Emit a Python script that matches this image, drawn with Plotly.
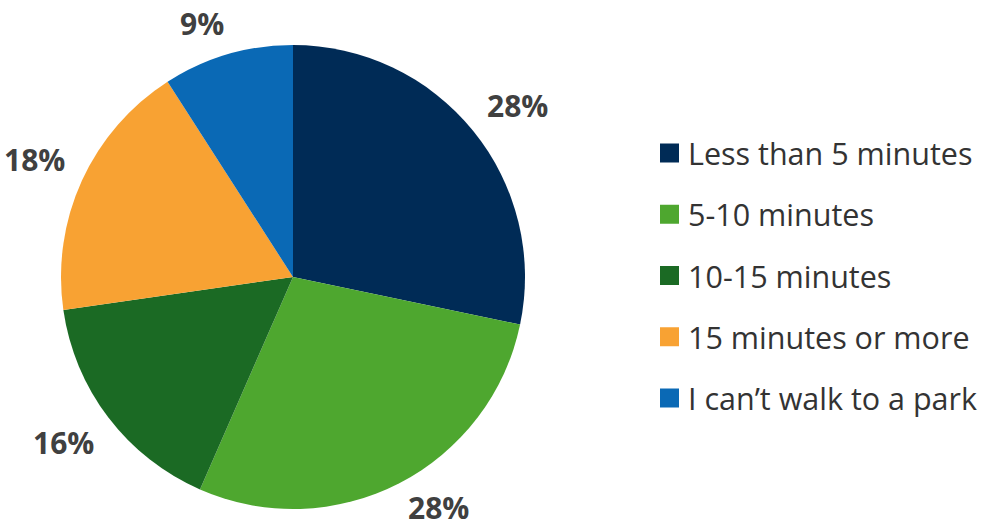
import math
import plotly.graph_objects as go

categories = ["Less than 5 minutes", "5-10 minutes", "10-15 minutes", "15 minutes or more", "I can\u2019t walk to a park"]
values = [28, 28, 16, 18, 9]
colors = ["#002B56", "#4EA72F", "#1B6A24", "#F8A233", "#0A69B5"]

W, H = 986, 527
cx, cy, r = 293, 277, 232

fig = go.Figure()
fig.add_trace(go.Pie(
    labels=categories,
    values=values,
    sort=False,
    direction="clockwise",
    rotation=0,
    marker=dict(colors=colors, line=dict(width=0)),
    textinfo="none",
    showlegend=False,
    domain=dict(x=[(cx - r) / W, (cx + r) / W], y=[(H - cy - r) / H, (H - cy + r) / H]),
    hoverinfo="label+value",
))

# outside percentage labels, placed at each slice's mid-angle
total = sum(values)
cum = 0
gap, fs = 18, 30
for v in values:
    mid = (cum + v / 2) / total * 2 * math.pi
    cum += v
    ux, uy = math.sin(mid), -math.cos(mid)
    px, py = cx + (r + gap) * ux, cy + (r + gap) * uy
    txt = f"{v}%"
    hw, hh = len(txt) * 10.3, 14
    tx = px + hw * (1 if ux > 0 else -1)
    ty = min(py + hh * (1 if uy > 0 else -1), H - 20)
    fig.add_annotation(xref="paper", yref="paper", x=tx / W, y=1 - ty / H,
                       text=f"<b>{txt}</b>", showarrow=False, xanchor="center", yanchor="middle",
                       font=dict(family="Open Sans", size=fs, color="#404040"))

# legend drawn from categories/colors
lx, ly0, step, sq = 660, 153, 61.25, 19
for i, (lab, col) in enumerate(zip(categories, colors)):
    yc = ly0 + i * step
    fig.add_shape(type="rect", xref="paper", yref="paper",
                  x0=lx / W, x1=(lx + sq) / W,
                  y0=1 - (yc + sq / 2) / H, y1=1 - (yc - sq / 2) / H,
                  fillcolor=col, line=dict(width=0))
    fig.add_annotation(xref="paper", yref="paper", x=(lx + sq + 7) / W, y=1 - yc / H,
                       text=lab, showarrow=False, xanchor="left", yanchor="middle",
                       font=dict(family="Open Sans", size=30.5, color="#333333"))

fig.update_layout(
    width=W, height=H,
    margin=dict(l=0, r=0, t=0, b=0),
    paper_bgcolor="white", plot_bgcolor="white",
)
fig.write_html("out.html", config={"displayModeBar": False},
               post_script="document.body.style.margin='0px';document.body.style.overflow='hidden';")
